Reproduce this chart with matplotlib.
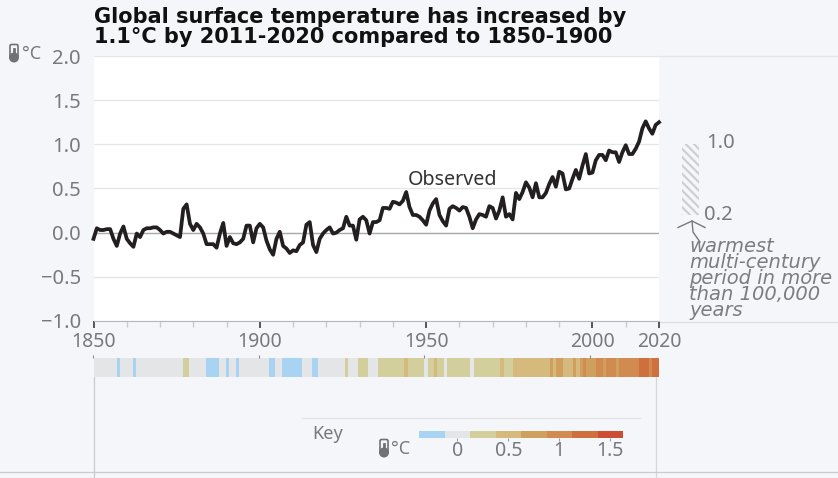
import numpy as np
import matplotlib
matplotlib.use('Agg')
import matplotlib.pyplot as plt
from matplotlib.colors import ListedColormap, BoundaryNorm
from matplotlib.patches import FancyBboxPatch, Circle

# Observed anomaly, one value per year from 1850
anomaly = [
    -0.07, 0.05, 0.03, 0.03, 0.04, 0.04, -0.07, -0.15, -0.01, 0.07,
    -0.07, -0.12, -0.16, -0.01, -0.05, 0.03, 0.05, 0.05, 0.06, 0.06,
    0.03, -0.01, 0.01, 0.01, -0.01, -0.03, -0.05, 0.27, 0.32, 0.10,
    0.03, 0.10, 0.06, -0.01, -0.13, -0.13, -0.13, -0.17, -0.01, 0.11,
    -0.15, -0.05, -0.12, -0.13, -0.11, -0.07, 0.08, 0.08, -0.11, 0.05,
    0.10, 0.06, -0.09, -0.19, -0.25, -0.07, 0.01, -0.15, -0.18, -0.23,
    -0.20, -0.21, -0.14, -0.11, 0.09, 0.12, -0.14, -0.22, -0.07, -0.01,
    0.03, 0.06, -0.01, 0.00, 0.03, 0.05, 0.18, 0.08, 0.08, -0.08,
    0.15, 0.18, 0.14, -0.01, 0.12, 0.12, 0.14, 0.28, 0.28, 0.27,
    0.35, 0.34, 0.32, 0.36, 0.46, 0.29, 0.20, 0.20, 0.18, 0.14,
    0.09, 0.25, 0.33, 0.38, 0.20, 0.13, 0.08, 0.27, 0.30, 0.28,
    0.25, 0.29, 0.28, 0.18, 0.05, 0.15, 0.21, 0.20, 0.18, 0.30,
    0.28, 0.16, 0.25, 0.40, 0.18, 0.21, 0.15, 0.45, 0.38, 0.46,
    0.57, 0.51, 0.40, 0.56, 0.40, 0.40, 0.45, 0.55, 0.63, 0.52,
    0.69, 0.67, 0.49, 0.50, 0.61, 0.71, 0.61, 0.76, 0.89, 0.67,
    0.68, 0.82, 0.88, 0.88, 0.82, 0.93, 0.91, 0.91, 0.80, 0.91,
    0.99, 0.89, 0.89, 0.95, 1.03, 1.18, 1.26, 1.18, 1.12, 1.22,
    1.25,
]
years = np.arange(1850, 1850 + len(anomaly))

y_ticks = [-1.0, -0.5, 0.0, 0.5, 1.0, 1.5, 2.0]
x_labels = [1850, 1900, 1950, 2000, 2020]
x_minor = [1860, 1870, 1880, 1890, 1910, 1920, 1930, 1940, 1960, 1970, 1980, 1990, 2010]

warmest_range = [0.2, 1.0]

key_edges = [-0.375, -0.125, 0.125, 0.375, 0.625, 0.875, 1.125, 1.375, 1.625]
key_colors = ['#a9d3f2', '#e4e5e6', '#d2cf9c', '#d6b97d', '#cf9f5e',
              '#d18a50', '#cf6f3e', '#cc4c34']
key_ticks = [0, 0.5, 1, 1.5]

BG = '#f4f6fa'
TXT = '#77797c'
W, H = 838, 478


def px_axes(x0, y0, x1, y1):
    # axes box from pixel corners, y counted from the top
    return fig.add_axes([x0 / W, 1 - y1 / H, (x1 - x0) / W, (y1 - y0) / H])


def thermometer(a, x, y):
    a.add_patch(FancyBboxPatch((x - 2.5, y - 7), 5, 10, boxstyle='round,pad=1.5',
                               fc=BG, ec='#6f7174', lw=1.2))
    a.add_patch(Circle((x, y + 4.5), 5, fc='#6f7174', ec='none'))
    a.plot([x, x], [y - 4, y + 4], color='#6f7174', lw=2)


plt.rcParams['font.family'] = ['Noto Sans', 'DejaVu Sans']
fig = plt.figure(figsize=(W / 100, H / 100), dpi=100, facecolor=BG)

# overlay in pixel coordinates for the furniture around the chart
deco = fig.add_axes([0, 0, 1, 1], zorder=0)
deco.set_xlim(0, W)
deco.set_ylim(H, 0)
deco.axis('off')
deco.plot([93.5, 93.5], [377, H], color='#c9cbce', lw=0.9)
deco.plot([656, 656], [377, H], color='#d5d7da', lw=0.9)
deco.plot([0, W], [472, 472], color='#c9cbce', lw=0.9)
deco.plot([302, 640], [417.5, 417.5], color='#e1e3e6', lw=0.9)
deco.plot([659, W], [56, 56], color='#e3e5e8', lw=0.9)
deco.plot([659, W], [321.5, 321.5], color='#dcdee1', lw=0.9)

# main chart
ax = px_axes(93.5, 56, 659, 321)
ax.set_zorder(2)
ax.set_facecolor('white')
ax.plot(years, anomaly, color='#231f20', lw=2.7, solid_joinstyle='round', clip_on=False, zorder=3)
ax.set_xlim(1850, 2020)
ax.set_ylim(-1.0, 2.0)
ax.set_yticks(y_ticks)
ax.set_yticklabels(['−1.0', '−0.5', '0.0', '0.5', '1.0', '1.5', '2.0'], fontsize=14.5, color=TXT)
ax.set_xticks(x_labels)
ax.set_xticklabels(x_labels, fontsize=14, color=TXT)
ax.set_xticks(x_minor, minor=True)
ax.tick_params(axis='y', length=0, pad=9)
ax.tick_params(axis='x', which='major', length=5, width=1.2, color='#3a3a3a', pad=3)
ax.tick_params(axis='x', which='minor', length=4, width=1, color='#c8cacd')
ax.grid(axis='y', color='#e3e5e8', lw=0.9)
ax.axhline(0, color='#a9abae', lw=1, zorder=2)
ax.set_axisbelow(True)
for side in ['top', 'right', 'left']:
    ax.spines[side].set_visible(False)
ax.spines['bottom'].set_color('#b5b7ba')

ax.text(1958, 0.6, 'Observed', fontsize=14.2, color='#333333', ha='center', va='center')

# hatched bar for the warmest multi-century period
plt.rcParams['hatch.linewidth'] = 1.6
plt.rcParams['hatch.color'] = '#cdd0d2'
ax.bar(2029.6, warmest_range[1] - warmest_range[0], width=5.1, bottom=warmest_range[0],
       facecolor='none', edgecolor='#cdd0d2', hatch='\\\\\\\\', linewidth=0, clip_on=False)
ax.text(2034.2, warmest_range[1] + 0.01, '1.0', fontsize=14.5, color=TXT, va='center', ha='left')
ax.text(2033.5, warmest_range[0] + 0.0, '0.2', fontsize=14.5, color=TXT, va='center', ha='left')

# stripes of the same series, binned as in the key
cmap = ListedColormap(key_colors)
norm = BoundaryNorm(key_edges, cmap.N)
stripe_edges = np.append(years, years[-1] + 1)
ax2 = px_axes(93.5, 358, 659, 377)
ax2.set_zorder(2)
ax2.pcolormesh(stripe_edges, [0, 1], [anomaly], cmap=cmap, norm=norm)
ax2.set_xlim(1850, 2021)
ax2.set_yticks([])
ax2.set_xticks([1850, 1900, 1950, 2000])
ax2.set_xticklabels([])
ax2.tick_params(axis='x', top=True, bottom=False, length=2, width=0.8, color='#8a8c8f')
for spine in ax2.spines.values():
    spine.set_visible(False)

# colour key
ax3 = px_axes(419, 431, 623, 437.5)
ax3.set_zorder(2)
ax3.pcolormesh(key_edges, [0, 1], [np.array(key_edges[:-1]) + 0.125], cmap=cmap, norm=norm)
ax3.set_xlim(key_edges[0], key_edges[-1])
ax3.set_yticks([])
ax3.set_xticks(key_ticks)
ax3.set_xticklabels(['0', '0.5', '1', '1.5'], fontsize=14, color=TXT)
ax3.tick_params(axis='x', length=2.5, width=0.8, color='#9a9c9f', pad=0)
for spine in ax3.spines.values():
    spine.set_visible(False)

# text and icons in pixel coordinates
top = fig.add_axes([0, 0, 1, 1], zorder=5)
top.set_xlim(0, W)
top.set_ylim(H, 0)
top.axis('off')
top.patch.set_alpha(0)
top.text(94, 16.5, 'Global surface temperature has increased by', fontsize=15, fontweight='bold',
         family='DejaVu Sans', color='#111111', va='center')
top.text(94, 37, '1.1°C by 2011-2020 compared to 1850-1900', fontsize=15, fontweight='bold',
         family='DejaVu Sans', color='#111111', va='center')
thermometer(top, 14, 53)
top.text(22, 53.5, '°C', fontsize=13, color=TXT, va='center')
thermometer(top, 384, 448)
top.text(391, 449.5, '°C', fontsize=13, color=TXT, va='center')
top.text(312, 434, 'Key', fontsize=13, color=TXT, va='center')

note_lines = ['warmest', 'multi-century', 'period in more', 'than 100,000', 'years']
top.text(689, 279, '\n'.join(note_lines), fontsize=14, style='italic', color='#7b7d80',
         family='DejaVu Sans', va='center', ha='left', linespacing=0.8)
top.plot([678, 692, 705], [227.5, 221, 227.5], color='#77797c', lw=1)
top.plot([692, 693, 700], [221, 232, 242], color='#77797c', lw=1)

fig.savefig('out.png', dpi=100, facecolor=BG)
